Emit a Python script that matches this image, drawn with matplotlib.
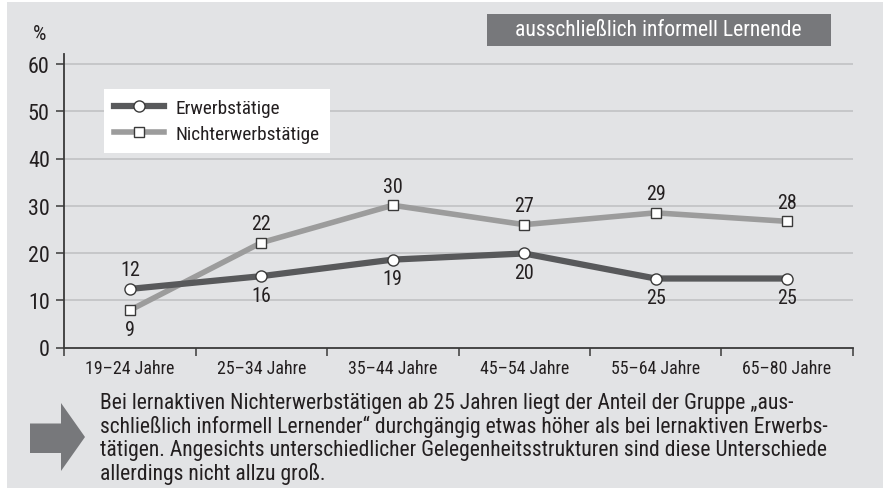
import matplotlib
matplotlib.use("Agg")
import matplotlib.pyplot as plt
import matplotlib.font_manager as fm
from matplotlib.patches import Rectangle, Polygon
from matplotlib.lines import Line2D

# ---------------- data ----------------
categories = ["19–24 Jahre", "25–34 Jahre", "35–44 Jahre", "45–54 Jahre", "55–64 Jahre", "65–80 Jahre"]
erwerbstaetige = [12.4, 15.1, 18.6, 19.9, 14.6, 14.6]
nichterwerbstaetige = [7.9, 22.2, 30.1, 26.0, 28.5, 26.7]
erw_labels = ["12", "16", "19", "20", "25", "25"]
nicht_labels = ["9", "22", "30", "27", "29", "28"]
y_ticks = [0, 10, 20, 30, 40, 50, 60]
series_names = ["Erwerbstätige", "Nichterwerbstätige"]
title_text = "ausschließlich informell Lernende"
note_lines = [
    "Bei lernaktiven Nichterwerbstätigen ab 25 Jahren liegt der Anteil der Gruppe „aus-",
    "schließlich informell Lernender“ durchgängig etwas höher als bei lernaktiven Erwerbs-",
    "tätigen. Angesichts unterschiedlicher Gelegenheitsstrukturen sind diese Unterschiede",
    "allerdings nicht allzu groß.",
]

# label placement (layout): +1 above, -1 below
erw_side = [1, -1, -1, -1, -1, -1]
nicht_side = [-1, 1, 1, 1, 1, 1]


def pick(cands):
    for c in cands:
        try:
            fm.findfont(fm.FontProperties(family=c), fallback_to_default=False)
            return c
        except Exception:
            pass
    return "DejaVu Sans"


FONT = pick(["Roboto Condensed", "Liberation Sans Narrow", "Roboto", "Liberation Sans"])
plt.rcParams["font.family"] = [FONT, "DejaVu Sans"]

W, H = 883, 489
fig = plt.figure(figsize=(W / 100, H / 100), dpi=100)
renderer = fig.canvas.get_renderer()


def size_for(s, target_px, ref=12.0):
    t = fig.text(0, 0, s, fontsize=ref)
    w = t.get_window_extent(renderer).width
    t.remove()
    return ref * target_px / w


FS_NOTE = size_for(note_lines[0], 692)
FS_TITLE = size_for(title_text, 288)
FS_XT = size_for(categories[0], 89)
FS_YT = size_for("60", 21.7)
FS_LAB = size_for("30", 19.5)
FS_LEG = size_for(series_names[1], 143.7)
FS_PCT = size_for("%", 13.3)

BG = "#e2e3e5"
DARK = "#58595b"
LIGHT = "#9c9c9c"
TXT = "#231f20"
EDGE = "#3a3a3a"
LW_DARK = 4.5
LW_LIGHT = 4.0


def fx(px):
    return px / W


def fy(py):
    return 1 - py / H


# background panel
fig.patches.append(Rectangle((fx(7), 0), 1 - fx(7), fy(3), transform=fig.transFigure,
                             facecolor=BG, edgecolor="none", zorder=-10))

# axes
ax_left, ax_right = 64.3, 852.7
ax_top, ax_bot = 55.0, 348.5
ax = fig.add_axes([fx(ax_left), fy(ax_bot), fx(ax_right - ax_left), (ax_bot - ax_top) / H])
ax.set_facecolor("none")
x = list(range(len(categories)))
ax.set_xlim(-0.5, len(categories) - 0.5)
ymax = 60 + (65 - 55) / ((348.5 - 65) / 60)
ax.set_ylim(0, ymax)

for s in ["top", "right"]:
    ax.spines[s].set_visible(False)
for s in ["left", "bottom"]:
    ax.spines[s].set_color(EDGE)
    ax.spines[s].set_linewidth(1.3)

ax.set_yticks(y_ticks)
ax.set_yticklabels([str(v) for v in y_ticks])
ax.tick_params(axis="y", direction="out", length=5.5, width=1.1, color=EDGE,
               labelsize=FS_YT, labelcolor=TXT, pad=5)
for v in y_ticks[1:]:
    ax.axhline(v, color="#c3c4c6", lw=1.3, zorder=0)

ax.set_xticks([i - 0.5 for i in range(len(categories) + 1)])
ax.set_xticklabels([])
ax.tick_params(axis="x", which="major", direction="out", length=5.5, width=1.1, color=EDGE)
ax.set_xticks(x, minor=True)
ax.set_xticklabels(categories, minor=True)
ax.tick_params(axis="x", which="minor", length=0, labelsize=FS_XT, labelcolor=TXT, pad=8.5)

ax.plot(x, nichterwerbstaetige, color=LIGHT, lw=LW_LIGHT, marker="s", markersize=7.6,
        markerfacecolor="white", markeredgecolor=EDGE, markeredgewidth=1.0, zorder=3,
        solid_joinstyle="miter")
ax.plot(x, erwerbstaetige, color=DARK, lw=LW_DARK, marker="o", markersize=8.0,
        markerfacecolor="white", markeredgecolor=EDGE, markeredgewidth=1.0, zorder=4,
        solid_joinstyle="miter")

for xi, v, lab, sd in zip(x, erwerbstaetige, erw_labels, erw_side):
    ax.annotate(lab, (xi, v), xytext=(0, 13.8 * sd), textcoords="offset points",
                ha="center", va="center", fontsize=FS_LAB, color=TXT)
for xi, v, lab, sd in zip(x, nichterwerbstaetige, nicht_labels, nicht_side):
    ax.annotate(lab, (xi, v), xytext=(0, 13.8 * sd), textcoords="offset points",
                ha="center", va="center", fontsize=FS_LAB, color=TXT)

# percent sign
fig.text(fx(40), fy(35), "%", ha="center", va="center", fontsize=FS_PCT, color=TXT)

# legend
handles = [
    Line2D([], [], color=DARK, lw=LW_DARK, marker="o", markersize=8.0, markerfacecolor="white",
           markeredgecolor=EDGE, markeredgewidth=1.0),
    Line2D([], [], color=LIGHT, lw=LW_LIGHT, marker="s", markersize=7.6, markerfacecolor="white",
           markeredgecolor=EDGE, markeredgewidth=1.0),
]
fs_px = FS_LEG * 100 / 72
leg = fig.legend(handles, series_names, loc="upper left",
                 bbox_to_anchor=(fx(104), fy(90)), bbox_transform=fig.transFigure,
                 fontsize=FS_LEG, frameon=True, fancybox=False, framealpha=1,
                 handlelength=50 / fs_px, handletextpad=11.5 / fs_px,
                 labelspacing=(27 - fs_px) / fs_px,
                 borderpad=10 / fs_px, borderaxespad=0, markerscale=1.0)
leg.get_frame().set_facecolor("white")
leg.get_frame().set_edgecolor("none")
leg.get_frame().set_linewidth(0)
for t in leg.get_texts():
    t.set_color(TXT)

# title box
fig.patches.append(Rectangle((fx(486.7), fy(46.7)), fx(831 - 486.7), (46.7 - 15) / H,
                             transform=fig.transFigure, facecolor="#77787b", edgecolor="none"))
fig.text(fx(658.8), fy(31), title_text, ha="center", va="center", fontsize=FS_TITLE, color="white")

# arrow
arrow_px = [(30, 424.5), (61, 424.5), (61, 404), (85, 438), (61, 472), (61, 454), (30, 454)]
fig.patches.append(Polygon([(fx(a), fy(b)) for a, b in arrow_px], closed=True,
                           transform=fig.transFigure, facecolor="#77787b", edgecolor="none"))

# note text
baselines = [409.5, 433, 456.5, 480]
for line, b in zip(note_lines, baselines):
    fig.text(fx(100), fy(b), line, ha="left", va="baseline", fontsize=FS_NOTE, color=TXT)

fig.savefig("out.png", dpi=100)
